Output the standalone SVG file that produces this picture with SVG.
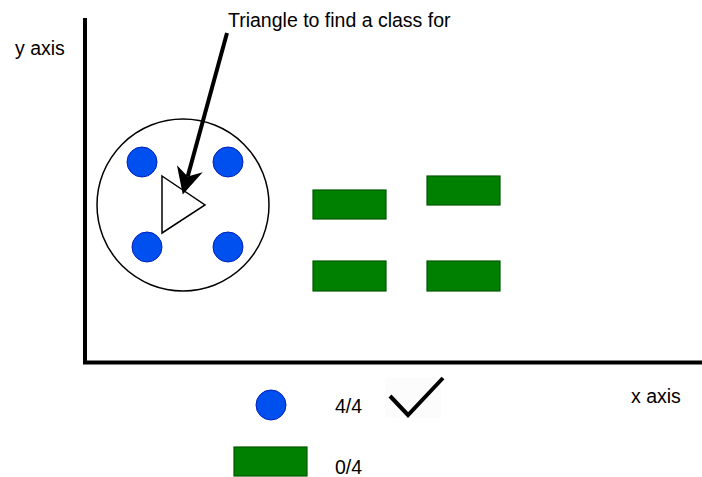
<svg xmlns="http://www.w3.org/2000/svg" width="702" height="477" viewBox="0 0 702 477">
<style>
.t{font-family:"Liberation Sans",Arial,Helvetica,sans-serif;font-size:19.5px;fill:#000}
.dot{fill:#0050ef;stroke:#001dbc;stroke-width:1}
.box{fill:#008000;stroke:#005700;stroke-width:1.2}
.axis{stroke:#000;stroke-width:4;fill:none}
</style>
<defs>
<marker id="ah" markerUnits="userSpaceOnUse" markerWidth="40" markerHeight="40" viewBox="-10 -15 30 30" refX="0" refY="0" orient="auto" overflow="visible">
<path d="M14,0 L-6,-10 L0,0 L-6,10 Z" fill="#000"/>
</marker>
</defs>
<rect width="702" height="477" fill="#fff"/>
<g id="axes">
<path class="axis" d="M85,18 L85,362.5 L702,362.5"/>
</g>
<text class="t" x="15" y="55">y axis</text>
<text class="t" x="631" y="403">x axis</text>
<g id="neighborhood">
<circle cx="183" cy="205" r="86" fill="none" stroke="#000" stroke-width="1.5"/>
</g>
<g id="dot1"><circle class="dot" cx="142" cy="162" r="15"/></g>
<g id="dot2"><circle class="dot" cx="228" cy="162" r="15"/></g>
<g id="dot3"><circle class="dot" cx="147" cy="247" r="15"/></g>
<g id="dot4"><circle class="dot" cx="228" cy="247" r="15"/></g>
<g id="triangle">
<polygon points="162,176 205,205 162,233" fill="#fff" stroke="#000" stroke-width="1.5"/>
</g>
<g id="rect1"><rect class="box" x="313" y="190" width="73" height="29"/></g>
<g id="rect2"><rect class="box" x="427" y="176" width="73" height="29"/></g>
<g id="rect3"><rect class="box" x="313" y="261" width="73" height="30"/></g>
<g id="rect4"><rect class="box" x="427" y="261" width="73" height="30"/></g>
<g id="label">
<text class="t" x="228" y="26.5">Triangle to find a class for</text>
</g>
<g id="connectors">
<line x1="227" y1="33" x2="187.7" y2="176.5" stroke="#000" stroke-width="4" marker-end="url(#ah)"/>
</g>
<g id="legend-dot"><circle class="dot" cx="271" cy="405" r="15"/></g>
<text class="t" x="335" y="413">4/4</text>
<g id="check">
<rect x="385" y="378" width="56" height="40" fill="#fcfcfc"/>
<polyline points="390,396 408,415 443,378" fill="none" stroke="#000" stroke-width="4"/>
</g>
<g id="legend-box"><rect class="box" x="234" y="447" width="73" height="29"/></g>
<text class="t" x="335" y="474">0/4</text>
</svg>
